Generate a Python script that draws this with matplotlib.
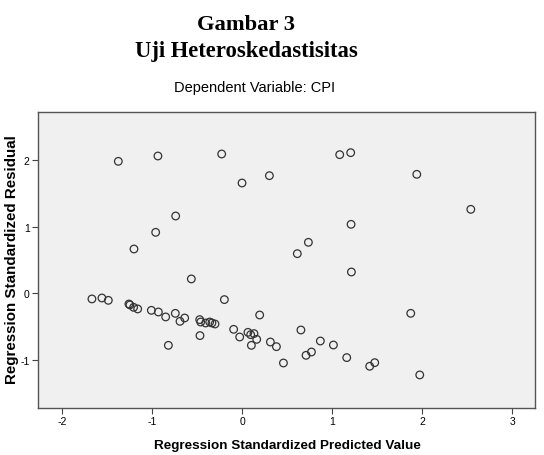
import matplotlib
matplotlib.use("Agg")
import matplotlib.pyplot as plt

# Regression standardized predicted value (x) and standardized residual (y)
pred = [-1.378, -0.938, -0.230, -0.004, 0.300, -0.741, -0.963, -1.204, -0.567, 0.610,
        1.081, 1.203, 1.937, 2.537, 1.207, 0.733, 1.211,
        -1.671, -1.560, -1.489, -1.260, -1.249, -1.208, -1.163, -1.011, -0.933, -0.852,
        -0.745, -0.693, -0.641, -0.822, -0.474, -0.463, -0.408, -0.363, -0.338, -0.304,
        -0.471, -0.200, 0.192, -0.097, -0.030, 0.062, 0.092, 0.129, 0.159, 0.100,
        0.311, 0.378, 0.456, 0.650, 0.866, 1.011, 0.767, 0.707, 1.159, 1.414, 1.470,
        1.870, 1.970]
resid = [1.98, 2.06, 2.09, 1.655, 1.765, 1.16, 0.915, 0.665, 0.216, 0.595,
         2.08, 2.11, 1.785, 1.26, 1.035, 0.765, 0.32,
         -0.084, -0.07, -0.105, -0.16, -0.174, -0.21, -0.234, -0.255, -0.28, -0.354,
         -0.30, -0.42, -0.37, -0.78, -0.394, -0.43, -0.445, -0.43, -0.445, -0.46,
         -0.634, -0.094, -0.325, -0.54, -0.655, -0.585, -0.62, -0.604, -0.69, -0.78,
         -0.73, -0.80, -1.045, -0.55, -0.715, -0.775, -0.88, -0.93, -0.964, -1.094, -1.04,
         -0.30, -1.224]

xticks = [-2, -1, 0, 1, 2, 3]
yticks = [-1, 0, 1, 2]

fig = plt.figure(figsize=(5.44, 4.56), dpi=100)
fig.patch.set_facecolor("white")
ax = fig.add_axes([38/544, 47/456, (535-38)/544, (409-113)/456])
ax.set_facecolor("#F0F0F0")

ax.scatter(pred, resid, s=30, facecolors="none", edgecolors="#333333", linewidths=0.9, zorder=3)

ax.set_xlim(-2.27, 3.25)
ax.set_ylim(-1.72, 2.72)
ax.set_xticks(xticks)
ax.set_yticks(yticks)
ax.set_xticklabels([str(t) for t in xticks], fontsize=7.5, family="Liberation Sans")
ax.set_yticklabels([str(t) for t in yticks], fontsize=7.5, family="Liberation Sans")
ax.tick_params(direction="out", length=4, width=0.8, color="#444444", pad=2)
for s in ax.spines.values():
    s.set_color("#555555")
    s.set_linewidth(1.0)

fig.text(287/544, 1 - 446/456, "Regression Standardized Predicted Value", ha="center", va="center",
         fontsize=9.7, fontweight="bold", family="Liberation Sans")
fig.text(12/544, 1 - 260/456, "Regression Standardized Residual", ha="center", va="center",
         rotation=90, fontsize=10.9, fontweight="bold", family="Liberation Sans")

fig.text(246/544, 1 - 25/456, "Gambar 3", ha="center", va="center", fontsize=16.2,
         fontweight="bold", family="Liberation Serif")
fig.text(246/544, 1 - 52/456, "Uji Heteroskedastisitas", ha="center", va="center", fontsize=16.3,
         fontweight="bold", family="Liberation Serif")
fig.text(255/544, 1 - 88/456, "Dependent Variable: CPI", ha="center", va="center", fontsize=10.5,
         family="Liberation Sans")

fig.savefig("out.png", dpi=100)
